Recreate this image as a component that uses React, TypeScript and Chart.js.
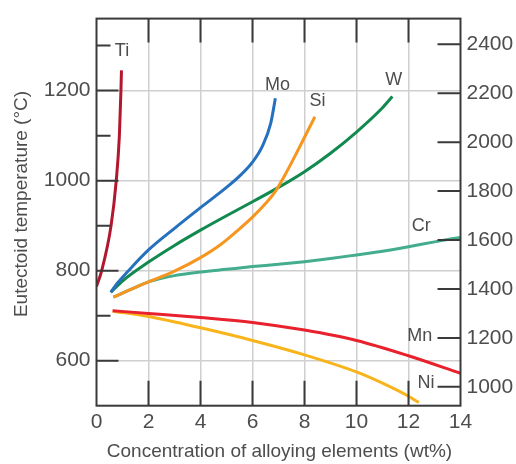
import React, { useEffect, useRef } from 'react';
import { Chart, registerables } from 'chart.js';

Chart.register(...registerables);

// ---- Data (wt% vs eutectoid temperature in °C) ----
const tiX = [0, 0.2, 0.56, 0.76, 0.88, 0.94, 0.96];
const tiY = [765, 800, 900, 1000, 1100, 1200, 1245];

const moX = [0.55, 0.8, 1.2, 2, 3, 4, 5, 5.5, 6, 6.4, 6.7, 6.88];
const moY = [752, 772, 798, 846, 894, 940, 985, 1010, 1041, 1079, 1127, 1183];

const siX = [0.65, 1, 1.5, 2, 3, 4, 4.75, 5.5, 6, 6.5, 6.9, 7.3, 7.7, 8.4];
const siY = [741, 750, 763, 775, 799, 829, 857, 893, 919, 949, 978, 1018, 1062, 1142];

const wX = [0.55, 1, 2, 3, 4, 5, 6, 7, 8, 9, 10, 11, 11.38];
const wY = [752, 777, 819, 856, 890, 922, 953, 985, 1020, 1061, 1108, 1162, 1187];

const crX = [0.65, 1, 1.5, 2, 2.5, 3, 4, 5, 6, 7, 8, 9, 10, 11, 12, 13, 14];
const crY = [741, 750, 763, 775, 783, 789, 797, 803, 809, 814, 820, 827, 835, 843, 853, 864, 874];

const mnX = [0.62, 2, 4, 6, 8, 10, 12, 14];
const mnY = [711, 705, 696, 685, 668, 645, 611, 572];

const niX = [0.62, 2, 4, 6, 8, 10, 11, 12, 12.4];
const niY = [710, 698, 673, 645, 613, 575, 550, 521, 507];

// ---- Axes ----
const xTicks = [0, 2, 4, 6, 8, 10, 12, 14];
const cTicks = [600, 700, 800, 900, 1000, 1100, 1200, 1300];
const cLabeled = [600, 800, 1000, 1200];
const fTicks = [1000, 1200, 1400, 1600, 1800, 2000, 2200, 2400];

// ---- Curve labels ----
const labelNames = ['Ti', 'Mo', 'Si', 'W', 'Cr', 'Mn', 'Ni'];
const labelX = [0.98, 6.96, 8.5, 11.43, 12.49, 12.43, 12.67];
const labelY = [1289, 1212, 1176, 1224, 899, 655, 551];

const xTitle = 'Concentration of alloying elements (wt%)';
const yTitle = 'Eutectoid temperature (°C)';

const FONT = '"Liberation Sans", Arial, sans-serif';
const TEXT = '#4d4d4d';

const seriesList = [
  { name: 'Ti', xs: tiX, ys: tiY, color: '#b3172e' },
  { name: 'Mo', xs: moX, ys: moY, color: '#2571bd' },
  { name: 'Si', xs: siX, ys: siY, color: '#f7961f' },
  { name: 'W', xs: wX, ys: wY, color: '#11894f' },
  { name: 'Cr', xs: crX, ys: crY, color: '#43ad8e' },
  { name: 'Mn', xs: mnX, ys: mnY, color: '#e8212d' },
  { name: 'Ni', xs: niX, ys: niY, color: '#f8b41b' },
];

const framePlugin = {
  id: 'framePlugin',
  afterDatasetsDraw(chart: any) {
    const { ctx, chartArea, scales } = chart;
    const { left, right, top, bottom } = chartArea;
    ctx.save();
    ctx.strokeStyle = '#3a3a3a';
    ctx.lineWidth = 2;
    ctx.lineCap = 'butt';
    ctx.beginPath();
    for (const v of xTicks) {
      if (v <= 0 || v >= 14) continue;
      const px = scales.x.getPixelForValue(v);
      ctx.moveTo(px, bottom);
      ctx.lineTo(px, bottom - 25);
      ctx.moveTo(px, top);
      ctx.lineTo(px, top + 24);
    }
    for (const v of cTicks) {
      const py = scales.y.getPixelForValue(v);
      const len = cLabeled.includes(v) ? 22 : 14;
      ctx.moveTo(left, py);
      ctx.lineTo(left + len, py);
    }
    for (const v of fTicks) {
      const py = scales.y2.getPixelForValue(v);
      ctx.moveTo(right, py);
      ctx.lineTo(right - 23, py);
    }
    ctx.stroke();
    ctx.strokeRect(left, top, right - left, bottom - top);

    // curve labels
    ctx.fillStyle = TEXT;
    ctx.font = `18px ${FONT}`;
    ctx.textAlign = 'center';
    ctx.textBaseline = 'middle';
    labelNames.forEach((n, i) => {
      ctx.fillText(n, scales.x.getPixelForValue(labelX[i]), scales.y.getPixelForValue(labelY[i]));
    });

    // axis titles
    ctx.font = `19px ${FONT}`;
    ctx.fillText(xTitle, (left + right) / 2 + 1, 452);
    ctx.translate(22, 204);
    ctx.rotate(-Math.PI / 2);
    ctx.fillText(yTitle, 0, 0);
    ctx.restore();
  },
};

export default function App() {
  const ref = useRef<HTMLCanvasElement | null>(null);
  useEffect(() => {
    document.body.style.margin = '0';
    const canvas = ref.current;
    if (!canvas) return;
    const chart = new Chart(canvas, {
      type: 'line',
      data: {
        datasets: seriesList.map((s) => ({
          label: s.name,
          data: s.xs.map((x, i) => ({ x, y: s.ys[i] })),
          borderColor: s.color,
          backgroundColor: s.color,
          borderWidth: 3,
          pointRadius: 0,
          fill: false,
          cubicInterpolationMode: 'monotone' as const,
          yAxisID: 'y',
        })),
      },
      options: {
        animation: false,
        responsive: false,
        maintainAspectRatio: false,
        layout: { padding: { top: 14, left: 0, right: 0, bottom: 0 } },
        plugins: { legend: { display: false }, tooltip: { enabled: false } },
        scales: {
          x: {
            type: 'linear',
            min: 0,
            max: 14,
            afterBuildTicks: (scale: any) => {
              scale.ticks = xTicks.map((v) => ({ value: v }));
            },
            afterFit: (scale: any) => {
              scale.height = 58.3;
            },
            grid: {
              drawTicks: false,
              color: (c: any) => (c.tick && (c.tick.value === 0 || c.tick.value === 14) ? 'rgba(0,0,0,0)' : '#cfcfcf'),
              lineWidth: 1.5,
            },
            border: { display: false },
            ticks: {
              autoSkip: false,
              maxRotation: 0,
              padding: 4,
              color: TEXT,
              font: { family: FONT, size: 21 },
              callback: (v: any) => String(v),
            },
          },
          y: {
            type: 'linear',
            position: 'left',
            min: 500,
            max: 1360,
            afterBuildTicks: (scale: any) => {
              scale.ticks = cTicks.map((v) => ({ value: v }));
            },
            afterFit: (scale: any) => {
              scale.width = 96.5;
            },
            grid: {
              drawTicks: false,
              color: (c: any) => (c.tick && cLabeled.includes(c.tick.value) ? '#cfcfcf' : 'rgba(0,0,0,0)'),
              lineWidth: 1.5,
            },
            border: { display: false },
            ticks: {
              autoSkip: false,
              padding: 6,
              color: TEXT,
              font: { family: FONT, size: 21 },
              callback: (v: any) => (cLabeled.includes(Number(v)) ? String(v) : ''),
            },
          },
          y2: {
            type: 'linear',
            position: 'right',
            min: 923,
            max: 2505,
            afterBuildTicks: (scale: any) => {
              scale.ticks = fTicks.map((v) => ({ value: v }));
            },
            afterFit: (scale: any) => {
              scale.width = 55.5;
            },
            grid: { display: false, drawTicks: false },
            border: { display: false },
            ticks: {
              autoSkip: false,
              padding: 6,
              color: TEXT,
              font: { family: FONT, size: 21 },
              callback: (v: any) => String(v),
            },
          },
        },
      },
      plugins: [framePlugin],
    });
    return () => chart.destroy();
  }, []);
  return (
    <div style={{ width: 516, height: 464, background: '#fff' }}>
      <canvas ref={ref} width={516} height={464} style={{ display: 'block', width: 516, height: 464 }} />
    </div>
  );
}
